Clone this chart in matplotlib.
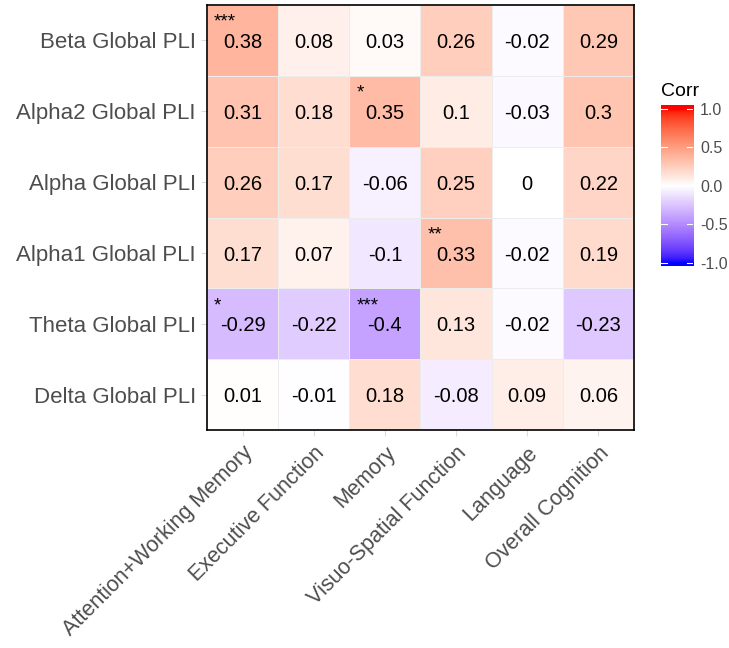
import numpy as np
import matplotlib
matplotlib.use("Agg")
import matplotlib.pyplot as plt
from matplotlib.colors import ListedColormap

# data
row_labels = ["Beta Global PLI", "Alpha2 Global PLI", "Alpha Global PLI",
              "Alpha1 Global PLI", "Theta Global PLI", "Delta Global PLI"]
col_labels = ["Attention+Working Memory", "Executive Function", "Memory",
              "Visuo-Spatial Function", "Language", "Overall Cognition"]
beta = [0.38, 0.08, 0.03, 0.26, -0.02, 0.29]
alpha2 = [0.31, 0.18, 0.35, 0.1, -0.03, 0.3]
alpha = [0.26, 0.17, -0.06, 0.25, 0, 0.22]
alpha1 = [0.17, 0.07, -0.1, 0.33, -0.02, 0.19]
theta = [-0.29, -0.22, -0.4, 0.13, -0.02, -0.23]
delta = [0.01, -0.01, 0.18, -0.08, 0.09, 0.06]
stars = [["***", "", "", "", "", ""],
         ["", "", "*", "", "", ""],
         ["", "", "", "", "", ""],
         ["", "", "", "**", "", ""],
         ["*", "", "***", "", "", ""],
         ["", "", "", "", "", ""]]
cbar_ticks = [-1.0, -0.5, 0.0, 0.5, 1.0]

corr = np.array([beta, alpha2, alpha, alpha1, theta, delta])

plt.rcParams["font.family"] = ["Liberation Sans", "DejaVu Sans"]
TXT = "#4d4d4d"


# ggplot style gradient2 -> interpolate in Lab space
def to_lab(rgb):
    c = np.asarray(rgb, float)
    lin = np.where(c <= 0.04045, c / 12.92, ((c + 0.055) / 1.055) ** 2.4)
    M = np.array([[0.4124, 0.3576, 0.1805], [0.2126, 0.7152, 0.0722], [0.0193, 0.1192, 0.9505]])
    xyz = M @ lin / np.array([0.95047, 1.0, 1.08883])
    f = np.where(xyz > 0.008856, np.cbrt(xyz), 7.787 * xyz + 16 / 116)
    return np.array([116 * f[1] - 16, 500 * (f[0] - f[1]), 200 * (f[1] - f[2])])


def from_lab(lab):
    L, a, b = lab
    fy = (L + 16) / 116
    fx = fy + a / 500
    fz = fy - b / 200
    f = np.array([fx, fy, fz])
    xyz = np.where(f ** 3 > 0.008856, f ** 3, (f - 16 / 116) / 7.787)
    xyz = xyz * np.array([0.95047, 1.0, 1.08883])
    Mi = np.array([[3.2406, -1.5372, -0.4986], [-0.9689, 1.8758, 0.0415], [0.0557, -0.2040, 1.0570]])
    lin = np.clip(Mi @ xyz, 0, 1)
    c = np.where(lin <= 0.0031308, 12.92 * lin, 1.055 * lin ** (1 / 2.4) - 0.055)
    return np.clip(c, 0, 1)


lab_b, lab_w, lab_r = to_lab([0, 0, 1]), to_lab([1, 1, 1]), to_lab([1, 0, 0])
cols = []
for t in np.linspace(-1, 1, 257):
    if t < 0:
        cols.append(from_lab(lab_w + (lab_b - lab_w) * (-t)))
    else:
        cols.append(from_lab(lab_w + (lab_r - lab_w) * t))
cmap = ListedColormap(cols)

fig = plt.figure(figsize=(7.29, 6.48), dpi=100)
ax = fig.add_axes([207 / 729, 1 - 430 / 648, 427 / 729, 425 / 648])

ax.pcolormesh(corr, cmap=cmap, vmin=-1, vmax=1, edgecolors="#ececec", linewidth=0.7)
ax.set_xlim(0, 6)
ax.set_ylim(6, 0)

for i in range(corr.shape[0]):
    for j in range(corr.shape[1]):
        ax.text(j + 0.5, i + 0.53, f"{corr[i, j]:g}", ha="center", va="center",
                fontsize=14.5, color="black")
        if stars[i][j]:
            # significance stars sit in the upper left corner of the tile
            ax.text(j + 0.1, i + 0.31, stars[i][j], ha="left", va="baseline",
                    fontsize=13.5, color="black")

ax.set_xticks(np.arange(6) + 0.5)
ax.set_xticklabels(col_labels, rotation=45, ha="right", rotation_mode="anchor",
                   fontsize=15.5, color=TXT)
ax.set_yticks(np.arange(6) + 0.5)
ax.set_yticklabels(row_labels, fontsize=16, color=TXT)
ax.tick_params(length=4, width=0.8, color="#dcdcdc", pad=4)
ax.tick_params(axis="x", pad=5)
for s in ax.spines.values():
    s.set_linewidth(1.2)
    s.set_color("black")

# legend colour bar
cax = fig.add_axes([660.7 / 729, 1 - 265.7 / 648, 32.6 / 729, 160.7 / 648])
grad = np.linspace(-1.04, 1.05, 300).reshape(-1, 1)
cax.imshow(grad, cmap=cmap, vmin=-1, vmax=1, aspect="auto", origin="lower",
           extent=[0, 1, -1.04, 1.05])
cax.set_xlim(0, 1)
cax.set_ylim(-1.04, 1.05)
cax.set_xticks([])
cax.yaxis.tick_right()
cax.set_yticks(cbar_ticks)
cax.set_yticklabels([f"{v:.1f}" for v in cbar_ticks], fontsize=11.5, color=TXT)
cax.tick_params(axis="y", length=0, pad=5)
for v in cbar_ticks:
    cax.plot([0, 0.2], [v, v], color="white", lw=0.8)
    cax.plot([0.8, 1], [v, v], color="white", lw=0.8)
for s in cax.spines.values():
    s.set_visible(False)
fig.text(661 / 729, 1 - 92 / 648, "Corr", fontsize=14, color="black", va="center", ha="left")

fig.savefig("out.png", dpi=100)
